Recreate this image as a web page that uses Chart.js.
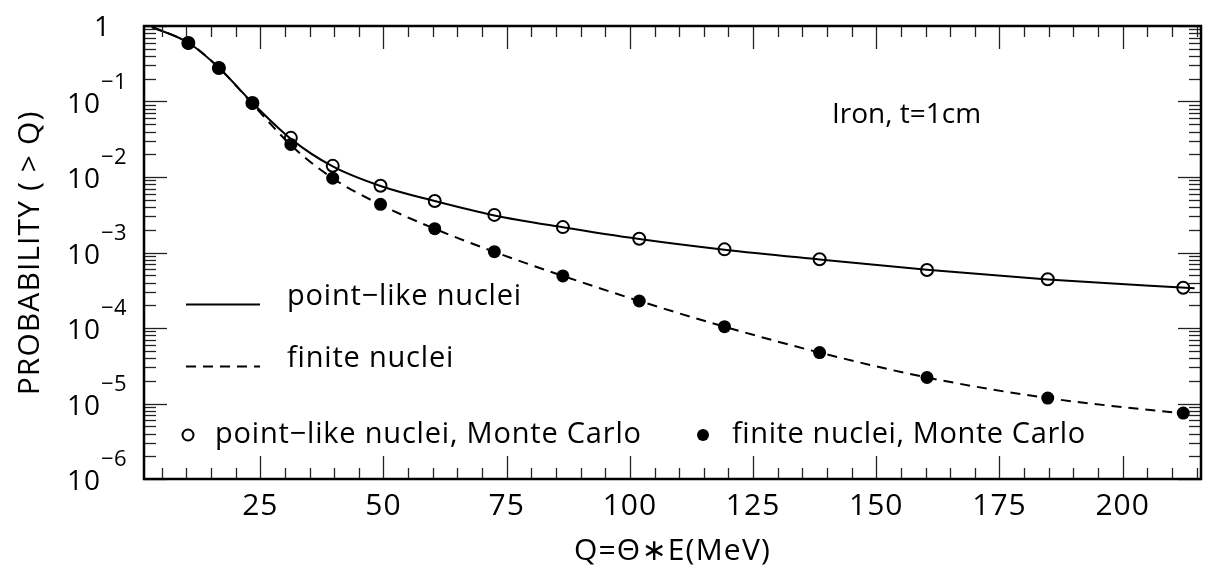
<!DOCTYPE html>
<html>
<head>
<meta charset="utf-8">
<title>Probability (&gt; Q), Iron t=1cm</title>
<script src="https://cdn.jsdelivr.net/npm/chart.js@4.4.1/dist/chart.umd.min.js"></script>
<style>
  html, body { margin: 0; padding: 0; background: #fff; }
  .chart-container { position: relative; width: 1209px; height: 571px; }
</style>
</head>
<body>
<div class="chart-container"><canvas id="prob-chart"></canvas></div>
<script>
// Q = Theta*E in MeV where the calculated curves are sampled
const curveQ = [3, 10.4, 16.6, 23.4, 31.2, 39.7, 49.4, 60.4, 72.5, 86.4, 101.9, 119.2, 138.5, 160.3, 184.8, 214.6];
const pointLikeCurve = [0.97, 0.6, 0.28, 0.096, 0.032, 0.0138, 0.0076, 0.0048, 0.0031, 0.00216, 0.00151, 0.00109, 0.00081, 0.00059, 0.00044, 0.000335];
const finiteCurve = [0.97, 0.6, 0.28, 0.093, 0.0265, 0.0096, 0.0043, 0.00206, 0.00102, 0.00049, 0.000228, 0.000104, 0.0000473, 0.0000221, 0.0000118, 0.0000071];

// Monte Carlo samples
const mcQ = [10.4, 16.6, 23.4, 31.2, 39.7, 49.4, 60.4, 72.5, 86.4, 101.9, 119.2, 138.5, 160.3, 184.8, 212.3];
const pointLikeMC = [0.596, 0.278, 0.0958, 0.033, 0.01406, 0.00765, 0.0048, 0.00315, 0.00217, 0.00152, 0.0011, 0.000813, 0.000587, 0.000442, 0.000342];
const finiteMC = [0.596, 0.278, 0.0941, 0.027, 0.00966, 0.00434, 0.00207, 0.001025, 0.000489, 0.000228, 0.000104, 0.0000473, 0.0000221, 0.0000118, 0.00000746];

// axis labelling
const xTickLabels = [25, 50, 75, 100, 125, 150, 175, 200];
const yDecades = [0, -1, -2, -3, -4, -5, -6];

const font = (size) => size + 'px "Open Sans", "DejaVu Sans", sans-serif';
const DASH = [10, 7];

const toXY = (xs, ys) => xs.map((x, i) => ({ x: x, y: ys[i] }));

function strokeLine(ctx, x1, y1, x2, y2) {
  ctx.beginPath();
  ctx.moveTo(x1, y1);
  ctx.lineTo(x2, y2);
  ctx.stroke();
}

function text(ctx, str, x, y, size, spacing, align) {
  ctx.font = font(size);
  ctx.letterSpacing = spacing + "px";
  ctx.textAlign = align || "left";
  ctx.fillText(str, x, y);
}

// frame, inward ticks, labels and the in-plot legend
const framePlugin = {
  id: "frame",
  afterDraw(chart) {
    const ctx = chart.ctx;
    const a = chart.chartArea;
    const x = chart.scales.x;
    const y = chart.scales.y;

    ctx.save();
    ctx.strokeStyle = "#222";
    ctx.lineWidth = 1.3;

    // x ticks every 5, long ones every 25
    for (let v = 5; v <= x.max; v += 5) {
      const px = Math.round(x.getPixelForValue(v)) + 0.5;
      const len = v % 25 === 0 ? 23 : 11;
      strokeLine(ctx, px, a.bottom, px, a.bottom - len);
      strokeLine(ctx, px, a.top, px, a.top + len);
    }

    // log ticks: decades long, 2..9 short
    yDecades.forEach((e) => {
      for (let m = 1; m <= 9; m++) {
        const v = m * Math.pow(10, e);
        if (v > 1) break;
        const py = Math.round(y.getPixelForValue(v)) + 0.5;
        const len = m === 1 ? 23 : 12;
        strokeLine(ctx, a.left, py, a.left + len, py);
        strokeLine(ctx, a.right, py, a.right - len, py);
      }
    });

    // frame
    ctx.strokeStyle = "#000";
    ctx.lineWidth = 2.5;
    ctx.strokeRect(a.left, a.top, a.right - a.left, a.bottom - a.top);

    ctx.fillStyle = "#000";
    ctx.textBaseline = "alphabetic";

    // x tick labels
    xTickLabels.forEach((v) => {
      text(ctx, String(v), x.getPixelForValue(v), a.bottom + 36, 30, 1, "center");
    });

    // y tick labels, 10 with raised exponent
    yDecades.forEach((e) => {
      const py = y.getPixelForValue(Math.pow(10, e));
      if (e === 0) {
        text(ctx, "1", 110, py + 10, 28, 0, "right");
        return;
      }
      text(ctx, "10", 101, py + 11, 28, 1, "right");
      text(ctx, "\u2212" + (-e), 101, py - 13, 22, 0.5, "left");
    });

    // axis titles
    text(ctx, "Q=\u0398\u2217E(MeV)", (a.left + a.right) / 2, 560, 30, 1.2, "center");

    ctx.save();
    ctx.translate(39, 253);
    ctx.rotate(-Math.PI / 2);
    text(ctx, "PROBABILITY ( > Q)", 0, 0, 30, 1.1, "center");
    ctx.restore();

    // material label
    text(ctx, "Iron, t=1cm", 832, 123, 28, 0, "left");

    // legend
    ctx.lineWidth = 2;
    ctx.strokeStyle = "#000";
    strokeLine(ctx, 186, 304.5, 260, 304.5);
    text(ctx, "point\u2212like nuclei", 287, 305, 29, 0.8);

    ctx.setLineDash(DASH);
    strokeLine(ctx, 186, 366.5, 260, 366.5);
    ctx.setLineDash([]);
    text(ctx, "finite nuclei", 287, 367, 29, 0.8);

    ctx.beginPath();
    ctx.arc(188, 435, 5.5, 0, Math.PI * 2);
    ctx.stroke();
    text(ctx, "point\u2212like nuclei, Monte Carlo", 215, 443, 29, 0.8);

    ctx.beginPath();
    ctx.arc(703, 435, 6, 0, Math.PI * 2);
    ctx.fill();
    text(ctx, "finite nuclei, Monte Carlo", 732, 443, 29, 0.6);

    ctx.restore();
  },
};

const datasets = [
  {
    label: "finite nuclei, Monte Carlo",
    data: toXY(mcQ, finiteMC),
    showLine: false,
    pointRadius: 6.5,
    pointBackgroundColor: "#000",
    pointBorderColor: "#000",
    pointBorderWidth: 0,
    order: 0,
  },
  {
    label: "point-like nuclei, Monte Carlo",
    data: toXY(mcQ, pointLikeMC),
    showLine: false,
    pointRadius: 6,
    pointBackgroundColor: "transparent",
    pointBorderColor: "#000",
    pointBorderWidth: 2,
    order: 1,
  },
  {
    label: "point-like nuclei",
    data: toXY(curveQ, pointLikeCurve),
    showLine: true,
    borderColor: "#000",
    borderWidth: 2,
    pointRadius: 0,
    cubicInterpolationMode: "monotone",
    order: 2,
  },
  {
    label: "finite nuclei",
    data: toXY(curveQ, finiteCurve),
    showLine: true,
    borderColor: "#000",
    borderWidth: 2,
    borderDash: DASH,
    pointRadius: 0,
    cubicInterpolationMode: "monotone",
    order: 3,
  },
];

new Chart(document.getElementById("prob-chart"), {
  type: "scatter",
  data: { datasets },
  options: {
    responsive: true,
    maintainAspectRatio: false,
    animation: false,
    layout: { padding: { left: 144, top: 26, right: 7, bottom: 92 } },
    plugins: {
      legend: { display: false },
      tooltip: { enabled: false },
    },
    scales: {
      x: { type: "linear", min: 1.4, max: 215.9, display: false },
      y: { type: "logarithmic", min: 1e-6, max: 1, display: false },
    },
  },
  plugins: [framePlugin],
});
</script>
</body>
</html>
